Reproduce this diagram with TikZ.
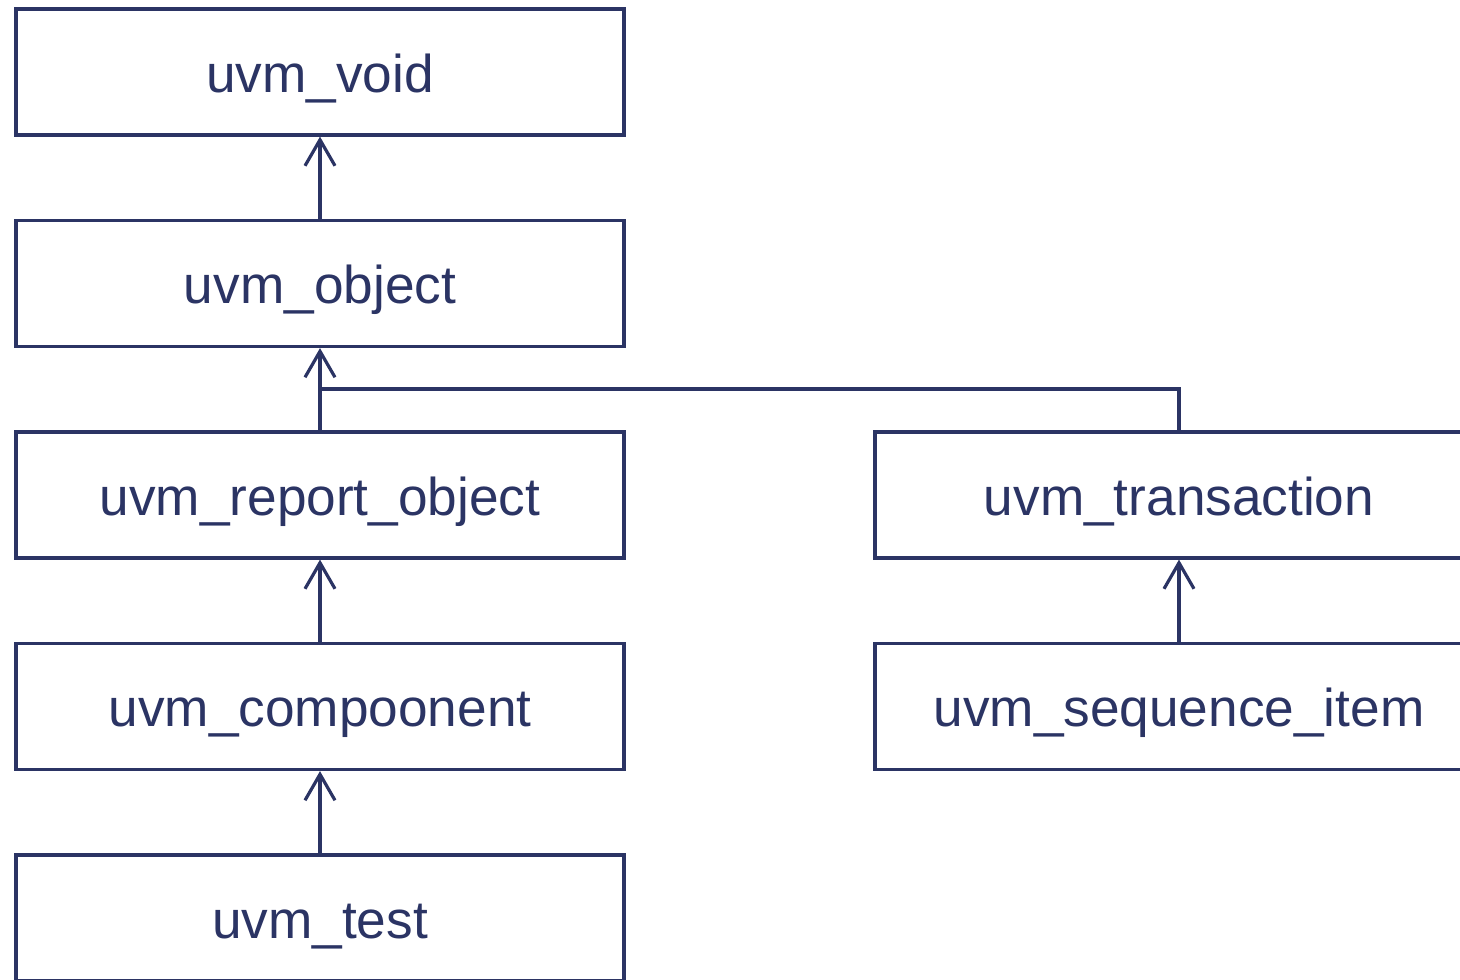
\documentclass[tikz,border=0pt]{standalone}
\usepackage{fontspec}
\setmainfont{Liberation Sans}
\usetikzlibrary{arrows.meta}
\definecolor{navy}{RGB}{43,52,100}
\begin{document}
\begin{tikzpicture}[x=1pt,y=-1pt,
  cls/.style={draw=navy,line width=3.2pt,fill=white,minimum width=608pt,minimum height=126pt,inner sep=0pt,text height=40pt,text depth=0pt,text=navy,font=\fontsize{53.2pt}{60pt}\selectfont},
  inh/.style={draw=navy,line width=3.2pt,-{Straight Barb[length=26pt,width=30pt,line width=3.2pt]}},
  lnk/.style={draw=navy,line width=3.2pt}]
\useasboundingbox (0,0) rectangle (1460,980);
\clip (0,0) rectangle (1460,980);
\node[cls] (void) at (320,72) {uvm\_void};
\node[cls] (obj) at (320,283.5) {uvm\_object};
\node[cls] (rep) at (320,495) {uvm\_report\_object};
\node[cls] (comp) at (320,706.5) {uvm\_compoonent};
\node[cls] (test) at (320,918) {uvm\_test};
\node[cls] (tr) at (1179,495) {uvm\_transaction};
\node[cls] (seq) at (1179,706.5) {uvm\_sequence\_item};
\coordinate (j) at (320,389);
\draw[lnk] (tr.north) |- (j);
\draw[inh] (obj.north) -- (void.south);
\draw[inh] (rep.north) -- (obj.south);
\draw[inh] (comp.north) -- (rep.south);
\draw[inh] (test.north) -- (comp.south);
\draw[inh] (seq.north) -- (tr.south);
\end{tikzpicture}
\end{document}
